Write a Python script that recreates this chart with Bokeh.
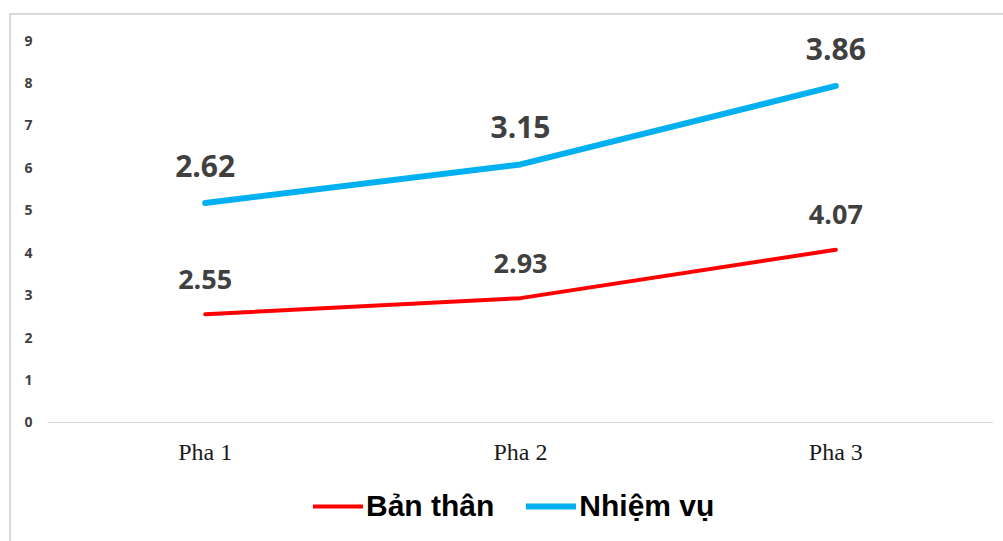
from bokeh.plotting import figure
from bokeh.models import (ColumnDataSource, Range1d, FactorRange, FixedTicker,
                          Legend, LegendItem)
from bokeh.core.properties import value
from bokeh.embed import file_html
from bokeh.resources import INLINE

categories = ["Pha 1", "Pha 2", "Pha 3"]
ban_than = [2.55, 2.93, 4.07]
nhiem_vu = [2.62, 3.15, 3.86]
y_ticks = [0, 1, 2, 3, 4, 5, 6, 7, 8, 9]

# stacked line: second series sits on top of the first
nhiem_vu_top = [a + b for a, b in zip(ban_than, nhiem_vu)]

src = ColumnDataSource(dict(
    x=categories,
    bt=ban_than,
    nv_top=nhiem_vu_top,
    bt_lbl=[f"{v:.2f}" for v in ban_than],
    nv_lbl=[f"{v:.2f}" for v in nhiem_vu],
))

# value axis shows 0..9; the frame reaches further down so the legend
# can sit inside it, under the category axis pinned at y = 0
p = figure(width=1003, height=541, x_range=FactorRange(*categories),
           y_range=Range1d(-2.804, 9.566), output_backend="svg",
           toolbar_location=None,
           min_border_left=47, min_border_right=10, min_border_top=16,
           min_border_bottom=0)
# thin grey chart-area edge along the top and left
edge = "linear-gradient(#d9d9d9, #d9d9d9)"
p.styles = {"background": f"{edge} 9px 13px / 2px 100% no-repeat, "
                          f"{edge} 9px 13px / 100% 2px no-repeat, #ffffff"}
p.outline_line_color = None
p.grid.grid_line_color = None
p.background_fill_alpha = 0
p.border_fill_alpha = 0

# axes
p.yaxis.ticker = FixedTicker(ticks=y_ticks)
p.yaxis.axis_line_color = None
p.yaxis.major_tick_line_color = None
p.yaxis.minor_tick_line_color = None
p.yaxis.major_label_standoff = 9
p.yaxis.major_label_text_font = "Open Sans"
p.yaxis.major_label_text_font_size = "14px"
p.yaxis.major_label_text_font_style = "bold"
p.yaxis.major_label_text_color = "#404040"

p.xaxis.fixed_location = 0
p.xaxis.axis_line_color = "#d9d9d9"
p.xaxis.axis_line_width = 1
p.xaxis.major_tick_line_color = None
p.xaxis.minor_tick_line_color = None
p.xaxis.major_label_standoff = 11
p.xaxis.major_label_text_font = "Liberation Serif"
p.xaxis.major_label_text_font_size = "24px"
p.xaxis.major_label_text_color = "#1a1a1a"

# series
r_bt = p.line("x", "bt", source=src, line_color="#ff0000", line_width=4,
              line_cap="round", line_join="round")
r_nv = p.line("x", "nv_top", source=src, line_color="#00b0f0", line_width=6,
              line_cap="round", line_join="round")

# value labels
p.text("x", "bt", text="bt_lbl", source=src, y_offset=-35,
       text_align="center", text_baseline="middle",
       text_font=value("Open Sans"), text_font_style="bold",
       text_font_size="27px", text_color="#404040")
p.text("x", "nv_top", text="nv_lbl", source=src, y_offset=-37,
       text_align="center", text_baseline="middle",
       text_font=value("Open Sans"), text_font_style="bold",
       text_font_size="30px", text_color="#404040")

legend = Legend(items=[LegendItem(label="Bản thân", renderers=[r_bt]),
                       LegendItem(label="Nhiệm vụ", renderers=[r_nv])],
                orientation="horizontal", location=(266, 18),
                glyph_width=50, glyph_height=30, label_standoff=3, spacing=32,
                padding=0, margin=0, border_line_color=None,
                background_fill_alpha=0,
                label_text_font="Liberation Sans", label_text_font_style="bold",
                label_text_font_size="30px", label_text_color="#000000")
p.add_layout(legend, "center")

open("out.html", "w").write(file_html(p, INLINE))
